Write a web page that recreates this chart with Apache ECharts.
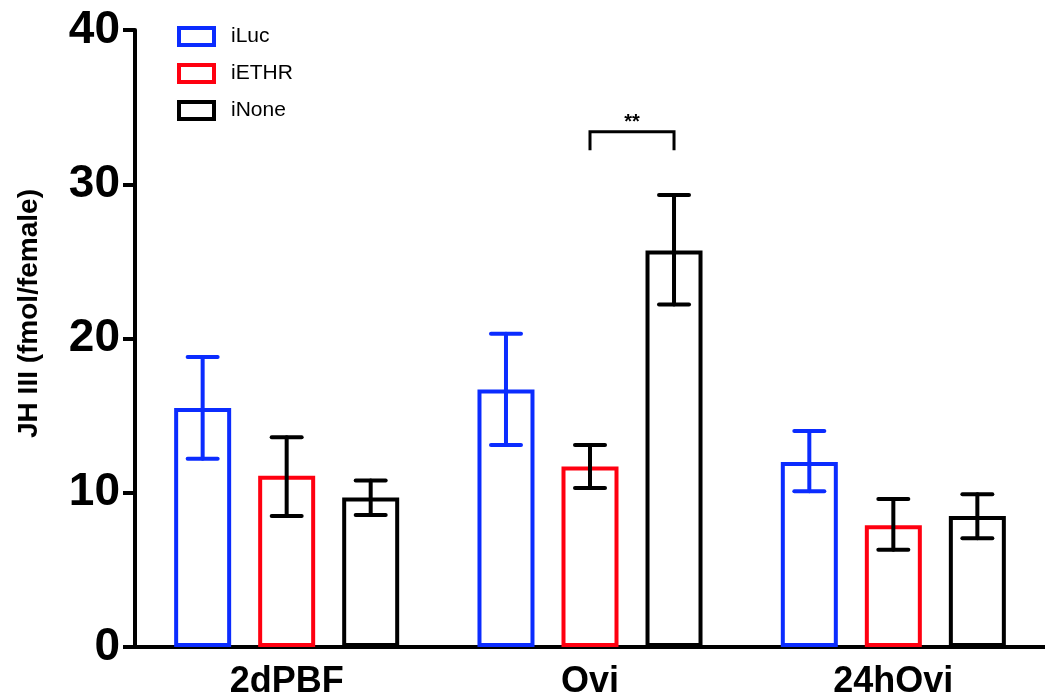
<!DOCTYPE html>
<html>
<head>
<meta charset="utf-8">
<script src="https://cdn.jsdelivr.net/npm/echarts@6/dist/echarts.min.js"></script>
<style>html,body{margin:0;padding:0;background:#fff}#c{width:1045px;height:700px}</style>
</head>
<body>
<div id="c"></div>
<script>
// ---- data ----
const categories = ['2dPBF', 'Ovi', '24hOvi'];
const seriesNames = ['iLuc', 'iETHR', 'iNone'];
const lucMean  = [15.5, 16.7, 12.0];
const lucHigh  = [18.8, 20.3, 14.0];
const lucLow   = [12.2, 13.1, 10.1];
const ethrMean = [11.1, 11.7, 7.9];
const ethrHigh = [13.6, 13.1, 9.6];
const ethrLow  = [8.5, 10.3, 6.3];
const noneMean = [9.7, 25.7, 8.5];
const noneHigh = [10.8, 29.3, 9.9];
const noneLow  = [8.55, 22.2, 7.05];
const yTicks = [0, 10, 20, 30, 40];
// significance bracket: category index, bracket top, leg bottom, label
const sigCategory = 1;
const sigTop = 33.4;
const sigBottom = 32.2;
const sigLabel = '**';

// ---- style ----
const BAR_W = 57;
const GAP_RATIO = 0.474;
const STEP = BAR_W * (1 + GAP_RATIO);
const colors = ['#0b2cff', '#ff0010', '#000000'];
const errColors = ['#0b2cff', '#000000', '#000000'];
const means = [lucMean, ethrMean, noneMean];
const highs = [lucHigh, ethrHigh, noneHigh];
const lows = [lucLow, ethrLow, noneLow];

const chart = echarts.init(document.getElementById('c'), null, {renderer: 'canvas'});

const barSeries = seriesNames.map((n, i) => ({
  name: n,
  type: 'bar',
  data: means[i],
  barWidth: BAR_W,
  barGap: (GAP_RATIO * 100) + '%',
  itemStyle: {color: '#fff', borderColor: colors[i], borderWidth: 4},
  emphasis: {disabled: true},
  z: 2
}));

const errSeries = seriesNames.map((n, i) => ({
  type: 'custom',
  name: n + '_err',
  data: categories.map((c, k) => [k, lows[i][k], highs[i][k]]),
  z: 5,
  silent: true,
  renderItem: function (params, api) {
    const k = api.value(0);
    const lo = api.coord([k, api.value(1)]);
    const hi = api.coord([k, api.value(2)]);
    const x = lo[0] + (i - 1) * STEP;
    const cap = 15;
    const st = {stroke: errColors[i], lineWidth: 4, lineCap: 'round'};
    return {
      type: 'group',
      children: [
        {type: 'line', shape: {x1: x, y1: lo[1], x2: x, y2: hi[1]}, style: st},
        {type: 'line', shape: {x1: x - cap, y1: hi[1], x2: x + cap, y2: hi[1]}, style: st},
        {type: 'line', shape: {x1: x - cap, y1: lo[1], x2: x + cap, y2: lo[1]}, style: st}
      ]
    };
  }
}));

const sigSeries = {
  type: 'custom',
  name: 'sig',
  data: [[sigCategory, sigTop, sigBottom]],
  z: 6,
  silent: true,
  renderItem: function (params, api) {
    const k = api.value(0);
    const top = api.coord([k, api.value(1)]);
    const bot = api.coord([k, api.value(2)]);
    const x1 = top[0];
    const x2 = top[0] + STEP;
    return {
      type: 'group',
      children: [
        {type: 'polyline', shape: {points: [[x1, bot[1]], [x1, top[1]], [x2, top[1]], [x2, bot[1]]]},
         style: {stroke: '#000', lineWidth: 3, fill: null}},
        {type: 'text', style: {text: sigLabel, x: (x1 + x2) / 2, y: top[1] + 1, align: 'center',
          verticalAlign: 'bottom', fill: '#000', font: 'bold 20px "Liberation Sans", Arial, sans-serif'}}
      ]
    };
  }
};

chart.setOption({
  animation: false,
  backgroundColor: '#fff',
  textStyle: {fontFamily: '"Liberation Sans", Arial, Helvetica, sans-serif'},
  grid: {left: 135, right: -11, top: 30, bottom: 52, containLabel: false},
  legend: {
    orient: 'vertical',
    left: 172, top: 21,
    itemWidth: 35, itemHeight: 17, itemGap: 16,
    icon: 'rect',
    data: seriesNames.map((n, i) => ({name: n, itemStyle: {color: '#fff', borderColor: colors[i], borderWidth: 4}})),
    textStyle: {fontSize: 21, color: '#000', padding: [0, 0, 0, 12]},
    selectedMode: false
  },
  xAxis: {
    type: 'category',
    data: categories,
    axisLine: {lineStyle: {color: '#000', width: 4}},
    axisTick: {alignWithLabel: true, length: 10, lineStyle: {color: '#000', width: 4}},
    axisLabel: {fontSize: 36, fontWeight: 'bold', color: '#000', margin: 17}
  },
  yAxis: {
    type: 'value',
    min: yTicks[0], max: yTicks[yTicks.length - 1], interval: yTicks[1] - yTicks[0],
    name: 'JH III (fmol/female)',
    nameLocation: 'middle',
    nameGap: 92,
    nameRotate: 90,
    nameTextStyle: {fontSize: 28, fontWeight: 'bold', color: '#000', padding: [0, 0, 0, 50]},
    splitLine: {show: false},
    axisLine: {show: true, lineStyle: {color: '#000', width: 4}},
    axisTick: {show: true, length: 12, lineStyle: {color: '#000', width: 4}},
    axisLabel: {fontSize: 46, fontWeight: 'bold', color: '#000', margin: 15}
  },
  series: barSeries.concat(errSeries).concat([sigSeries])
});
</script>
</body>
</html>
